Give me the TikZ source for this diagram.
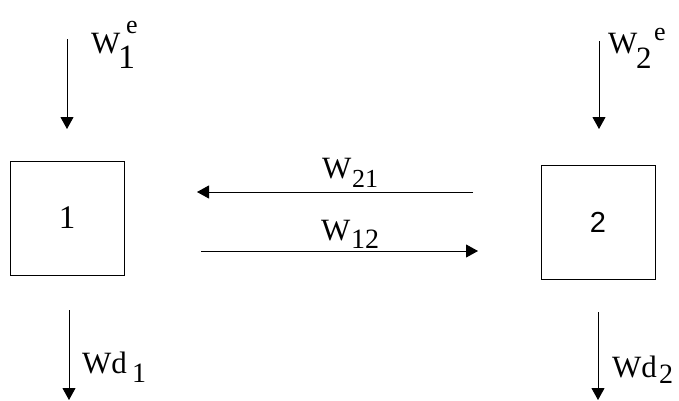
\documentclass[tikz,border=0pt]{standalone}
\usepackage{fontspec}
\setmainfont{Liberation Serif}
\newfontfamily\boxsans{Liberation Sans}
\usetikzlibrary{arrows.meta}
\begin{document}
\begin{tikzpicture}[x=1pt,y=-1pt,
  flow/.style={line width=0.9pt,-{Triangle[length=12pt,width=13pt]}},
  blk/.style={draw,line width=0.9pt,minimum width=114pt,minimum height=114pt,inner sep=0pt},
  txt/.style={anchor=base west,inner sep=0pt},
  big/.style={font=\fontsize{31}{31}\selectfont},
  sub/.style={font=\fontsize{28}{28}\selectfont},
  sup/.style={font=\fontsize{26}{26}\selectfont}]
\useasboundingbox (0,0) rectangle (679,400);
% boxes
\node[blk,font=\fontsize{33}{33}\selectfont] (b1) at (67,218) {1};
\node[blk,font=\boxsans\fontsize{29}{29}\selectfont] (b2) at (598,222) {2};
% external inputs
\coordinate (in1s) at (67,39);  \coordinate (in1e) at (67,129);
\coordinate (in2s) at (599,41); \coordinate (in2e) at (599,129);
\draw[flow] (in1s) -- (in1e);
\draw[flow] (in2s) -- (in2e);
% outputs
\coordinate (o1s) at (69,310);  \coordinate (o1e) at (69,400);
\coordinate (o2s) at (598,312); \coordinate (o2e) at (598,400);
\draw[flow] (o1s) -- (o1e);
\draw[flow] (o2s) -- (o2e);
% exchange arrows
\coordinate (a21s) at (473,192); \coordinate (a21e) at (197,192);
\coordinate (a12s) at (201,251); \coordinate (a12e) at (478,251);
\draw[flow] (a21s) -- (a21e);
\draw[flow] (a12s) -- (a12e);
% labels W1e
\node[txt,big] (w1) at (91,53) {W};
\node[txt,font=\fontsize{34}{34}\selectfont] (w1s) at (118,68) {1};
\node[txt,sup] (w1e) at (126,33) {e};
% W2e
\node[txt,big] (w2) at (608,53) {W};
\node[txt,font=\fontsize{31}{31}\selectfont] (w2s) at (636,68) {2};
\node[txt,sup] (w2e) at (654,40) {e};
% W21
\node[txt,big] (w21) at (322,178) {W};
\node[txt,font=\fontsize{26}{26}\selectfont] (w21s) at (352,187) {21};
% W12
\node[txt,big] (w12) at (321,240) {W};
\node[txt,sub] (w12s) at (351,248) {12};
% Wd1
\node[txt,big] (wd1) at (82,373) {Wd};
\node[txt,sub] (wd1s) at (132,382) {1};
% Wd2
\node[txt,big] (wd2) at (612,377) {Wd};
\node[txt,sub] (wd2s) at (659,383) {2};
\end{tikzpicture}
\end{document}
